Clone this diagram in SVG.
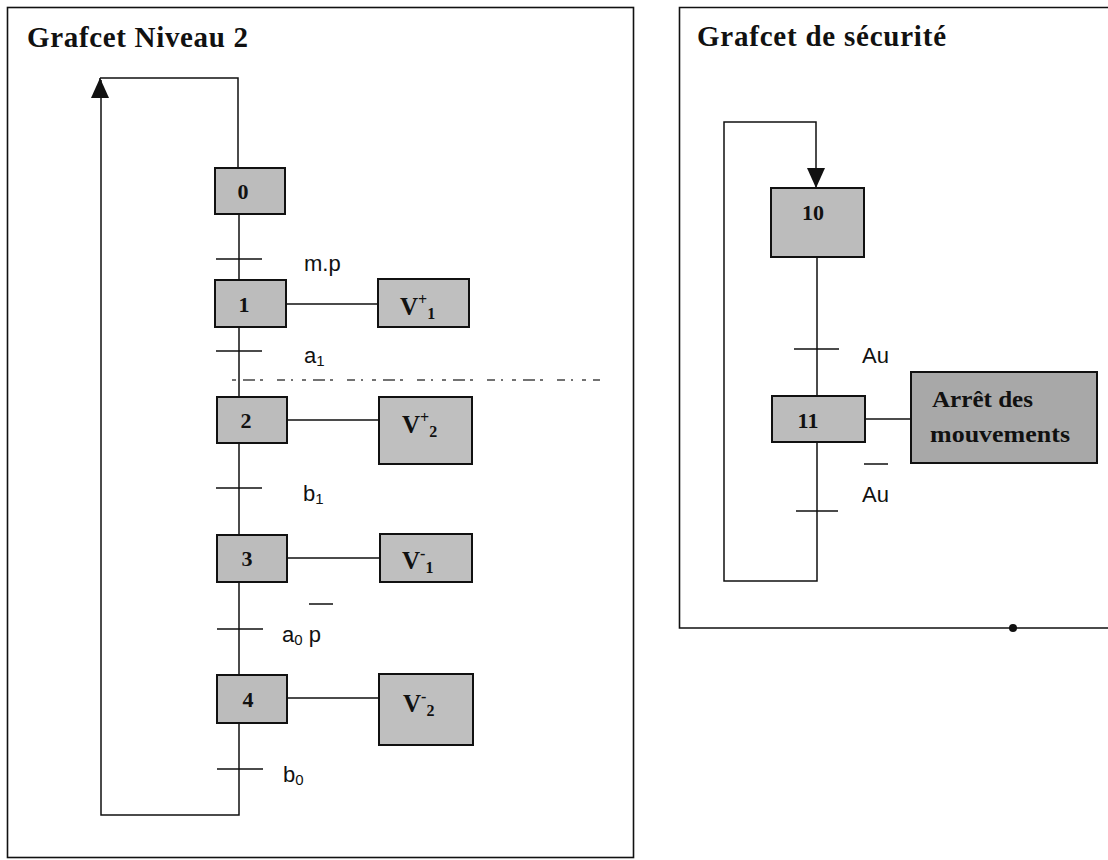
<svg xmlns="http://www.w3.org/2000/svg" width="1108" height="860" viewBox="0 0 1108 860">
<style>
.frame{fill:none;stroke:#111;stroke-width:1.6}
.ln{fill:none;stroke:#111;stroke-width:1.5}
.step{fill:#bcbcbc;stroke:#111;stroke-width:2}
.act{fill:#bfbfbf;stroke:#111;stroke-width:2}
.actd{fill:#a8a8a8;stroke:#111;stroke-width:2}
.title{font-family:"Liberation Serif",serif;font-weight:bold;font-size:29px;fill:#111}
.num{font-family:"Liberation Serif",serif;font-weight:bold;font-size:22px;fill:#111;text-anchor:middle}
.av{font-family:"Liberation Serif",serif;font-weight:bold;font-size:25px;fill:#111}
.sup{font-size:16px}
.lbl{font-family:"Liberation Sans",sans-serif;font-size:22px;fill:#111}
.sub{font-size:15px}
.at{font-family:"Liberation Serif",serif;font-weight:bold;font-size:24px;fill:#111}
.noise{fill:none;stroke:#444;stroke-width:1.3;stroke-dasharray:4 7 12 5 3 14 8 6 2 9}
</style>
<defs>
<marker id="arr" viewBox="0 0 20 18" refX="20" refY="9" markerWidth="20" markerHeight="18" markerUnits="userSpaceOnUse" orient="auto">
<path d="M0,0 L20,9 L0,18 z" fill="#111"/>
</marker>
</defs>

<g id="frames">
<rect class="frame" x="7.5" y="7.5" width="626" height="850"/>
<path class="frame" d="M1108 7.5 H679.5 V628 H1108"/>
<circle cx="1013" cy="628" r="4" fill="#111"/>
<text class="title" x="27" y="47" textLength="221" lengthAdjust="spacing">Grafcet Niveau 2</text>
<text class="title" x="697" y="46" textLength="249" lengthAdjust="spacing">Grafcet de sécurité</text>
<path class="noise" d="M232 380 H600"/>
</g>

<g id="connectors">
<path class="ln" d="M239 214 V815 H101 V80"/>
<path class="ln" d="M100 98 V78" marker-end="url(#arr)"/>
<path class="ln" d="M100 78 H238 V168"/>
<path class="ln" d="M216 259 H262 M216 351 H262 M216 488 H262 M217 629 H263 M217 769 H263"/>
<path class="ln" d="M286 304 H378 M287 420 H379 M287 558 H380 M287 698 H379"/>
<path class="ln" d="M817 257 V581 H724 V122 H816 V170"/>
<path class="ln" d="M816 168 V188" marker-end="url(#arr)"/>
<path class="ln" d="M794 349 H839 M796 511 H838"/>
<path class="ln" d="M865 419 H911"/>
<path class="ln" d="M864 464 H888 M309 604 H333"/>
</g>

<g id="step0"><rect class="step" x="215" y="168" width="70" height="46"/><text class="num" x="243" y="199">0</text></g>
<g id="step1"><rect class="step" x="215" y="280" width="71" height="47"/><text class="num" x="244" y="312">1</text></g>
<g id="step2"><rect class="step" x="217" y="397" width="70" height="46"/><text class="num" x="246" y="428">2</text></g>
<g id="step3"><rect class="step" x="217" y="535" width="70" height="47"/><text class="num" x="247" y="566">3</text></g>
<g id="step4"><rect class="step" x="217" y="675" width="70" height="48"/><text class="num" x="248" y="707">4</text></g>

<g id="act1"><rect class="act" x="378" y="279" width="91" height="48"/><text class="av" x="400" y="315">V<tspan class="sup" dy="-10">+</tspan><tspan class="sup" dy="14">1</tspan></text></g>
<g id="act2"><rect class="act" x="379" y="397" width="93" height="67"/><text class="av" x="402" y="433">V<tspan class="sup" dy="-10">+</tspan><tspan class="sup" dy="14">2</tspan></text></g>
<g id="act3"><rect class="act" x="380" y="534" width="92" height="48"/><text class="av" x="402" y="569">V<tspan class="sup" dy="-10">-</tspan><tspan class="sup" dy="14">1</tspan></text></g>
<g id="act4"><rect class="act" x="379" y="674" width="94" height="71"/><text class="av" x="403" y="712">V<tspan class="sup" dy="-10">-</tspan><tspan class="sup" dy="14">2</tspan></text></g>

<g id="trans-labels">
<text class="lbl" x="304" y="271">m.p</text>
<text class="lbl" x="304" y="363">a<tspan class="sub" dy="3">1</tspan></text>
<text class="lbl" x="303" y="501">b<tspan class="sub" dy="3">1</tspan></text>
<text class="lbl" x="282" y="642">a<tspan class="sub" dy="3">0</tspan><tspan dy="-3"> p</tspan></text>
<text class="lbl" x="283" y="782">b<tspan class="sub" dy="3">0</tspan></text>
<text class="lbl" x="862" y="363">Au</text>
<text class="lbl" x="862" y="502">Au</text>
</g>

<g id="step10"><rect class="step" x="771" y="188" width="93" height="69"/><text class="num" x="813" y="220">10</text></g>
<g id="step11"><rect class="step" x="772" y="396" width="93" height="46"/><text class="num" x="808" y="428">11</text></g>
<g id="act11"><rect class="actd" x="911" y="372" width="186" height="91"/><text class="at" x="932" y="407" textLength="101" lengthAdjust="spacingAndGlyphs">Arrêt des</text><text class="at" x="930" y="442" textLength="140" lengthAdjust="spacingAndGlyphs">mouvements</text></g>
</svg>
